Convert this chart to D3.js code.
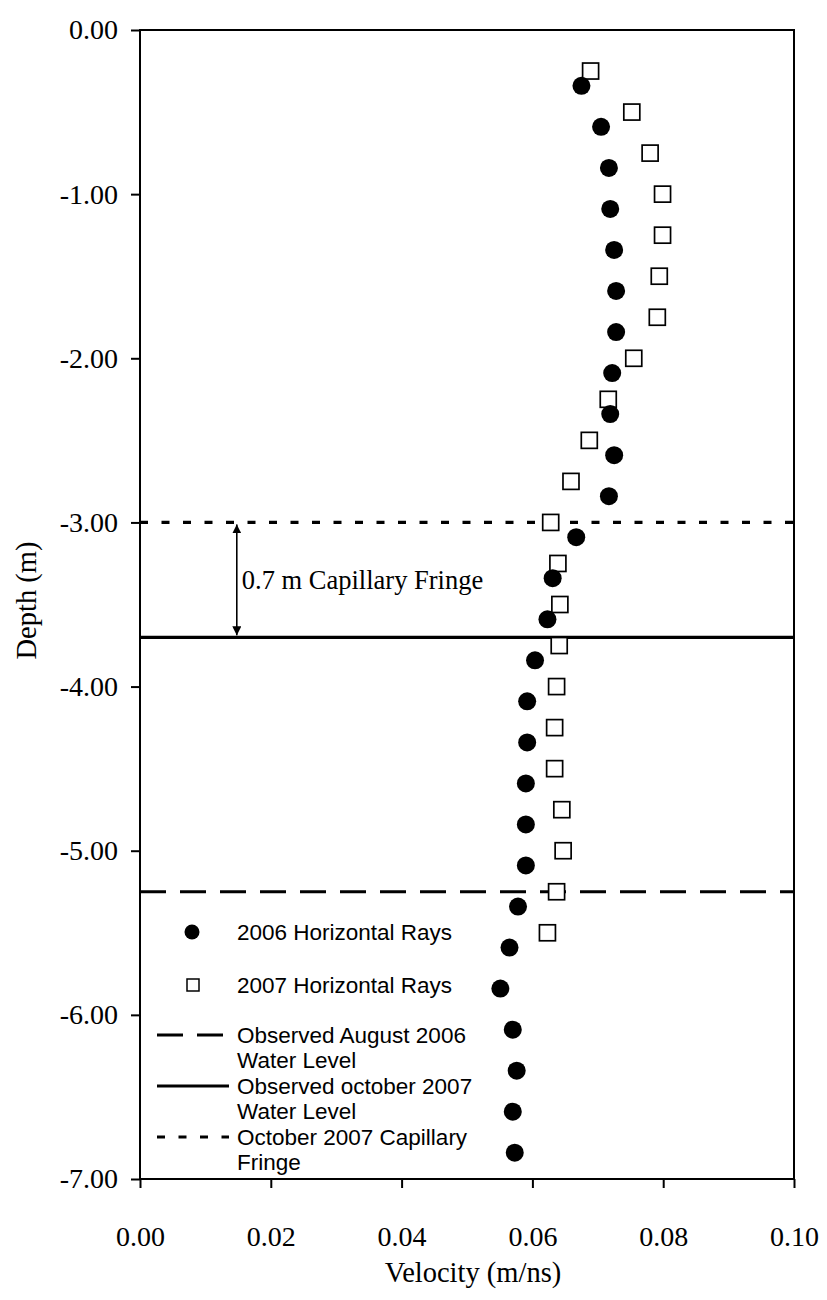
<!DOCTYPE html>
<html>
<head>
<meta charset="utf-8">
<script src="https://cdn.jsdelivr.net/npm/d3@7"></script>
<style>
  body { margin: 0; background: #fff; }
  .serif { font-family: "Liberation Serif", "Times New Roman", serif; fill: #000; }
  .sans { font-family: "Liberation Sans", Arial, sans-serif; fill: #000; }
</style>
</head>
<body>
<svg id="chart" width="827" height="1300"></svg>
<script>
// 2006 horizontal-ray velocities by depth
const depth2006 = [-0.34, -0.59, -0.84, -1.09, -1.34, -1.59, -1.84, -2.09, -2.34, -2.59,
                   -2.84, -3.09, -3.34, -3.59, -3.84, -4.09, -4.34, -4.59, -4.84, -5.09,
                   -5.34, -5.59, -5.84, -6.09, -6.34, -6.59, -6.84];
const velocity2006 = [0.0675, 0.0705, 0.0717, 0.0719, 0.0725, 0.0728, 0.0728, 0.0722, 0.0719, 0.0725,
                      0.0717, 0.0667, 0.0631, 0.0623, 0.0604, 0.0592, 0.0592, 0.0590, 0.0590, 0.0590,
                      0.0578, 0.0565, 0.0551, 0.0570, 0.0576, 0.0570, 0.0573];

// 2007 horizontal-ray velocities by depth
const depth2007 = [-0.25, -0.50, -0.75, -1.00, -1.25, -1.50, -1.75, -2.00, -2.25, -2.50, -2.75,
                   -3.00, -3.25, -3.50, -3.75, -4.00, -4.25, -4.50, -4.75, -5.00, -5.25, -5.50];
const velocity2007 = [0.0689, 0.0752, 0.0780, 0.0799, 0.0799, 0.0794, 0.0791, 0.0755, 0.0716, 0.0687, 0.0659,
                      0.0628, 0.0639, 0.0642, 0.0641, 0.0637, 0.0634, 0.0634, 0.0645, 0.0647, 0.0637, 0.0623];

// Reference levels (m)
const waterLevelAug2006 = -5.25;
const waterLevelOct2007 = -3.70;
const capillaryFringeOct2007 = -3.00;
const fringeLabel = "0.7 m Capillary Fringe";
const fringeArrowVelocity = 0.0148;

// Axis ticks and titles
const xTicks = [0, 0.02, 0.04, 0.06, 0.08, 0.10];
const yTicks = [0, -1, -2, -3, -4, -5, -6, -7];
const xTitle = "Velocity (m/ns)";
const yTitle = "Depth (m)";

// Legend entries
const legendKinds = ["circle", "square", "dashed", "solid", "dotted"];
const legendLabels = [
  ["2006 Horizontal Rays"],
  ["2007 Horizontal Rays"],
  ["Observed August 2006", "Water Level"],
  ["Observed october 2007", "Water Level"],
  ["October 2007 Capillary", "Fringe"]
];

const svg = d3.select("#chart");
const plotLeft = 140, plotRight = 794, plotTop = 30, plotBottom = 1179;

const x = d3.scaleLinear().domain([0, 0.10]).range([plotLeft, plotRight]);
const y = d3.scaleLinear().domain([0, -7]).range([plotTop, plotBottom]);

const fmt = d => d3.format(".2f")(d).replace("\u2212", "-");

const dashStyles = { dashed: "26 14", solid: null, dotted: "8 13.5" };

// Horizontal reference lines
const refLines = [
  { value: capillaryFringeOct2007, kind: "dotted" },
  { value: waterLevelOct2007, kind: "solid" },
  { value: waterLevelAug2006, kind: "dashed" }
];
svg.append("g").selectAll("line").data(refLines).join("line")
  .attr("x1", plotLeft).attr("x2", plotRight)
  .attr("y1", d => y(d.value)).attr("y2", d => y(d.value))
  .attr("stroke", "#000").attr("stroke-width", 3.2)
  .attr("stroke-dasharray", d => dashStyles[d.kind]);

// Frame
svg.append("rect")
  .attr("x", plotLeft).attr("y", plotTop)
  .attr("width", plotRight - plotLeft).attr("height", plotBottom - plotTop)
  .attr("fill", "none").attr("stroke", "#000").attr("stroke-width", 2);

// Axes
const yAxis = svg.append("g").attr("transform", `translate(${plotLeft},0)`)
  .call(d3.axisLeft(y).tickValues(yTicks).tickFormat(fmt).tickSize(9).tickPadding(13));
const xAxis = svg.append("g").attr("transform", `translate(0,${plotBottom})`)
  .call(d3.axisBottom(x).tickValues(xTicks).tickFormat(fmt).tickSize(9).tickPadding(38));
[yAxis, xAxis].forEach(a => {
  a.select(".domain").remove();
  a.selectAll(".tick line").attr("stroke", "#000").attr("stroke-width", 2);
  a.selectAll(".tick text").attr("class", "serif").style("font-size", "28px").attr("fill", "#000");
});
xAxis.selectAll(".tick text").attr("dy", "0.71em");

// Axis titles
svg.append("text").attr("class", "serif")
  .attr("x", (plotLeft + plotRight) / 2 + 6).attr("y", 1282)
  .attr("text-anchor", "middle").style("font-size", "28.5px").text(xTitle);
svg.append("text").attr("class", "serif")
  .attr("transform", `translate(36,${(plotTop + plotBottom) / 2 - 4}) rotate(-90)`)
  .attr("text-anchor", "middle").style("font-size", "28.5px").text(yTitle);

// Capillary fringe annotation arrow
const defs = svg.append("defs");
defs.append("marker").attr("id", "head")
  .attr("viewBox", "0 0 10 10").attr("refX", 10).attr("refY", 5)
  .attr("markerWidth", 9).attr("markerHeight", 9).attr("markerUnits", "userSpaceOnUse")
  .attr("orient", "auto-start-reverse")
  .append("path").attr("d", "M0,0 L10,5 L0,10 Z").attr("fill", "#000");
svg.append("line")
  .attr("x1", x(fringeArrowVelocity)).attr("x2", x(fringeArrowVelocity))
  .attr("y1", y(capillaryFringeOct2007) + 2).attr("y2", y(waterLevelOct2007) - 2)
  .attr("stroke", "#000").attr("stroke-width", 1.6)
  .attr("marker-start", "url(#head)").attr("marker-end", "url(#head)");
svg.append("text").attr("class", "serif")
  .attr("x", x(fringeArrowVelocity) + 5)
  .attr("y", (y(capillaryFringeOct2007) + y(waterLevelOct2007)) / 2 + 9)
  .style("font-size", "26.5px").text(fringeLabel);

// Data points
const pts2006 = depth2006.map((d, i) => ({ depth: d, v: velocity2006[i] }));
const pts2007 = depth2007.map((d, i) => ({ depth: d, v: velocity2007[i] }));
const sq = 16;
svg.append("g").selectAll("rect").data(pts2007).join("rect")
  .attr("x", d => x(d.v) - sq / 2).attr("y", d => y(d.depth) - sq / 2)
  .attr("width", sq).attr("height", sq)
  .attr("fill", "#fff").attr("stroke", "#000").attr("stroke-width", 1.7);
svg.append("g").selectAll("circle").data(pts2006).join("circle")
  .attr("cx", d => x(d.v)).attr("cy", d => y(d.depth)).attr("r", 9)
  .attr("fill", "#000");

// Legend
const legendRowY = [932, 985, 1035, 1086, 1137];
const legend = svg.append("g");
legendKinds.forEach((kind, i) => {
  const row = legend.append("g").attr("transform", `translate(0,${legendRowY[i]})`);
  if (kind === "circle") {
    row.append("circle").attr("cx", 192).attr("cy", 0).attr("r", 7.5).attr("fill", "#000");
  } else if (kind === "square") {
    row.append("rect").attr("x", 187).attr("y", -6).attr("width", 12).attr("height", 12)
      .attr("fill", "#fff").attr("stroke", "#000").attr("stroke-width", 1.5);
  } else {
    row.append("line").attr("x1", 157).attr("x2", 229).attr("y1", 0).attr("y2", 0)
      .attr("stroke", "#000").attr("stroke-width", 3.2)
      .attr("stroke-dasharray", dashStyles[kind]);
  }
  legendLabels[i].forEach((t, j) => {
    row.append("text").attr("class", "sans")
      .attr("x", 237).attr("y", j * 25).attr("dy", "0.35em")
      .style("font-size", "22.5px").text(t);
  });
});
</script>
</body>
</html>
